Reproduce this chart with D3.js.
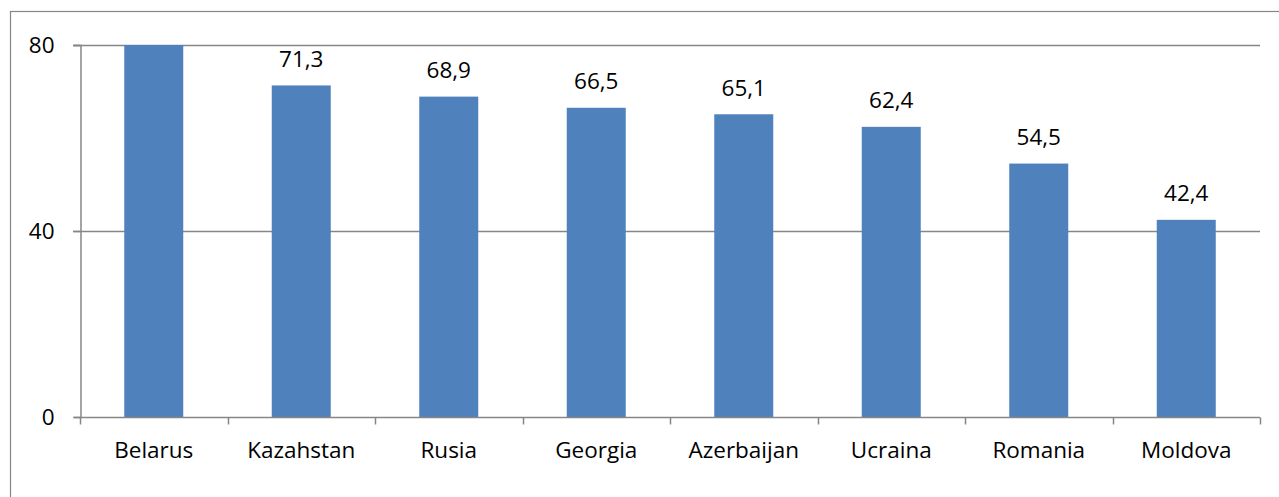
<!DOCTYPE html>
<html><head><meta charset="utf-8">
<script src="https://cdn.jsdelivr.net/npm/d3@7"></script>
<style>body{margin:0;background:#fff}svg{display:block}text{font-family:"Open Sans",sans-serif;fill:#000}</style>
</head><body>
<script>
const categories = ["Belarus","Kazahstan","Rusia","Georgia","Azerbaijan","Ucraina","Romania","Moldova"];
const values = [80, 71.3, 68.9, 66.5, 65.1, 62.4, 54.5, 42.4];
const yTicks = [0, 40, 80];

const W = 1279, H = 497;
const m = {left: 80, right: 19, top: 45, bottom: 80};
const FS = 22.5;
const svg = d3.select("body").append("svg").attr("width", W).attr("height", H);

svg.append("rect").attr("x", 10.5).attr("y", 11.5).attr("width", W).attr("height", H)
  .attr("fill", "none").attr("stroke", "#868686").attr("stroke-width", 1.2);

const x = d3.scaleBand().domain(categories).range([m.left, W - m.right]).paddingInner(0.6).paddingOuter(0.3);
const y = d3.scaleLinear().domain([0, 80]).range([H - m.bottom, m.top]);
const fmt = v => d3.format(".1f")(v).replace(".", ",");

// gridlines
svg.append("g").selectAll("line").data(yTicks.filter(d => d > 0)).join("line")
  .attr("x1", m.left - 7).attr("x2", W - m.right)
  .attr("y1", d => Math.round(y(d)) + 0.5).attr("y2", d => Math.round(y(d)) + 0.5)
  .attr("stroke", "#868686").attr("stroke-width", 1.5);

const rows = categories.map((c, i) => ({c, v: values[i]}));

// bars
svg.append("g").selectAll("rect").data(rows).join("rect")
  .attr("x", d => x(d.c)).attr("width", x.bandwidth())
  .attr("y", d => y(Math.min(d.v, 80))).attr("height", d => y(0) - y(Math.min(d.v, 80)))
  .attr("fill", "#4F81BD");

// value labels (hidden where the bar reaches the axis maximum)
svg.append("g").selectAll("text").data(rows.filter(d => d.v < 80)).join("text")
  .attr("x", d => x(d.c) + x.bandwidth() / 2)
  .attr("y", d => y(d.v) - 18.5)
  .attr("text-anchor", "middle").attr("font-size", FS)
  .text(d => fmt(d.v));

// y axis
const yAxis = d3.axisLeft(y).tickValues(yTicks).tickSize(7).tickPadding(19).tickFormat(d3.format("d"));
const gy = svg.append("g").attr("transform", `translate(${m.left + 0.5},0)`).call(yAxis);
gy.select(".domain").attr("stroke", "#868686").attr("stroke-width", 1.5);
gy.selectAll(".tick line").attr("stroke", "#868686").attr("stroke-width", 1.5);
gy.selectAll("text").attr("font-size", FS).attr("font-family", "Open Sans").attr("fill", "#000");

// x axis
const xAxis = d3.axisBottom(x).tickSize(0).tickPadding(25);
const gx = svg.append("g").attr("transform", `translate(0,${y(0) + 0.5})`).call(xAxis);
gx.select(".domain").attr("stroke", "#868686").attr("stroke-width", 1.5).attr("d", `M${m.left},0H${W - m.right}`);
gx.selectAll("text").attr("font-size", FS).attr("font-family", "Open Sans").attr("fill", "#000");
// category boundary ticks
const bounds = d3.range(categories.length + 1).map(i => m.left + i * (W - m.left - m.right) / categories.length);
gx.append("g").selectAll("line").data(bounds).join("line")
  .attr("x1", d => Math.round(d) + 0.5).attr("x2", d => Math.round(d) + 0.5)
  .attr("y1", 0).attr("y2", 7).attr("stroke", "#868686").attr("stroke-width", 1.5);
</script>
</body></html>
